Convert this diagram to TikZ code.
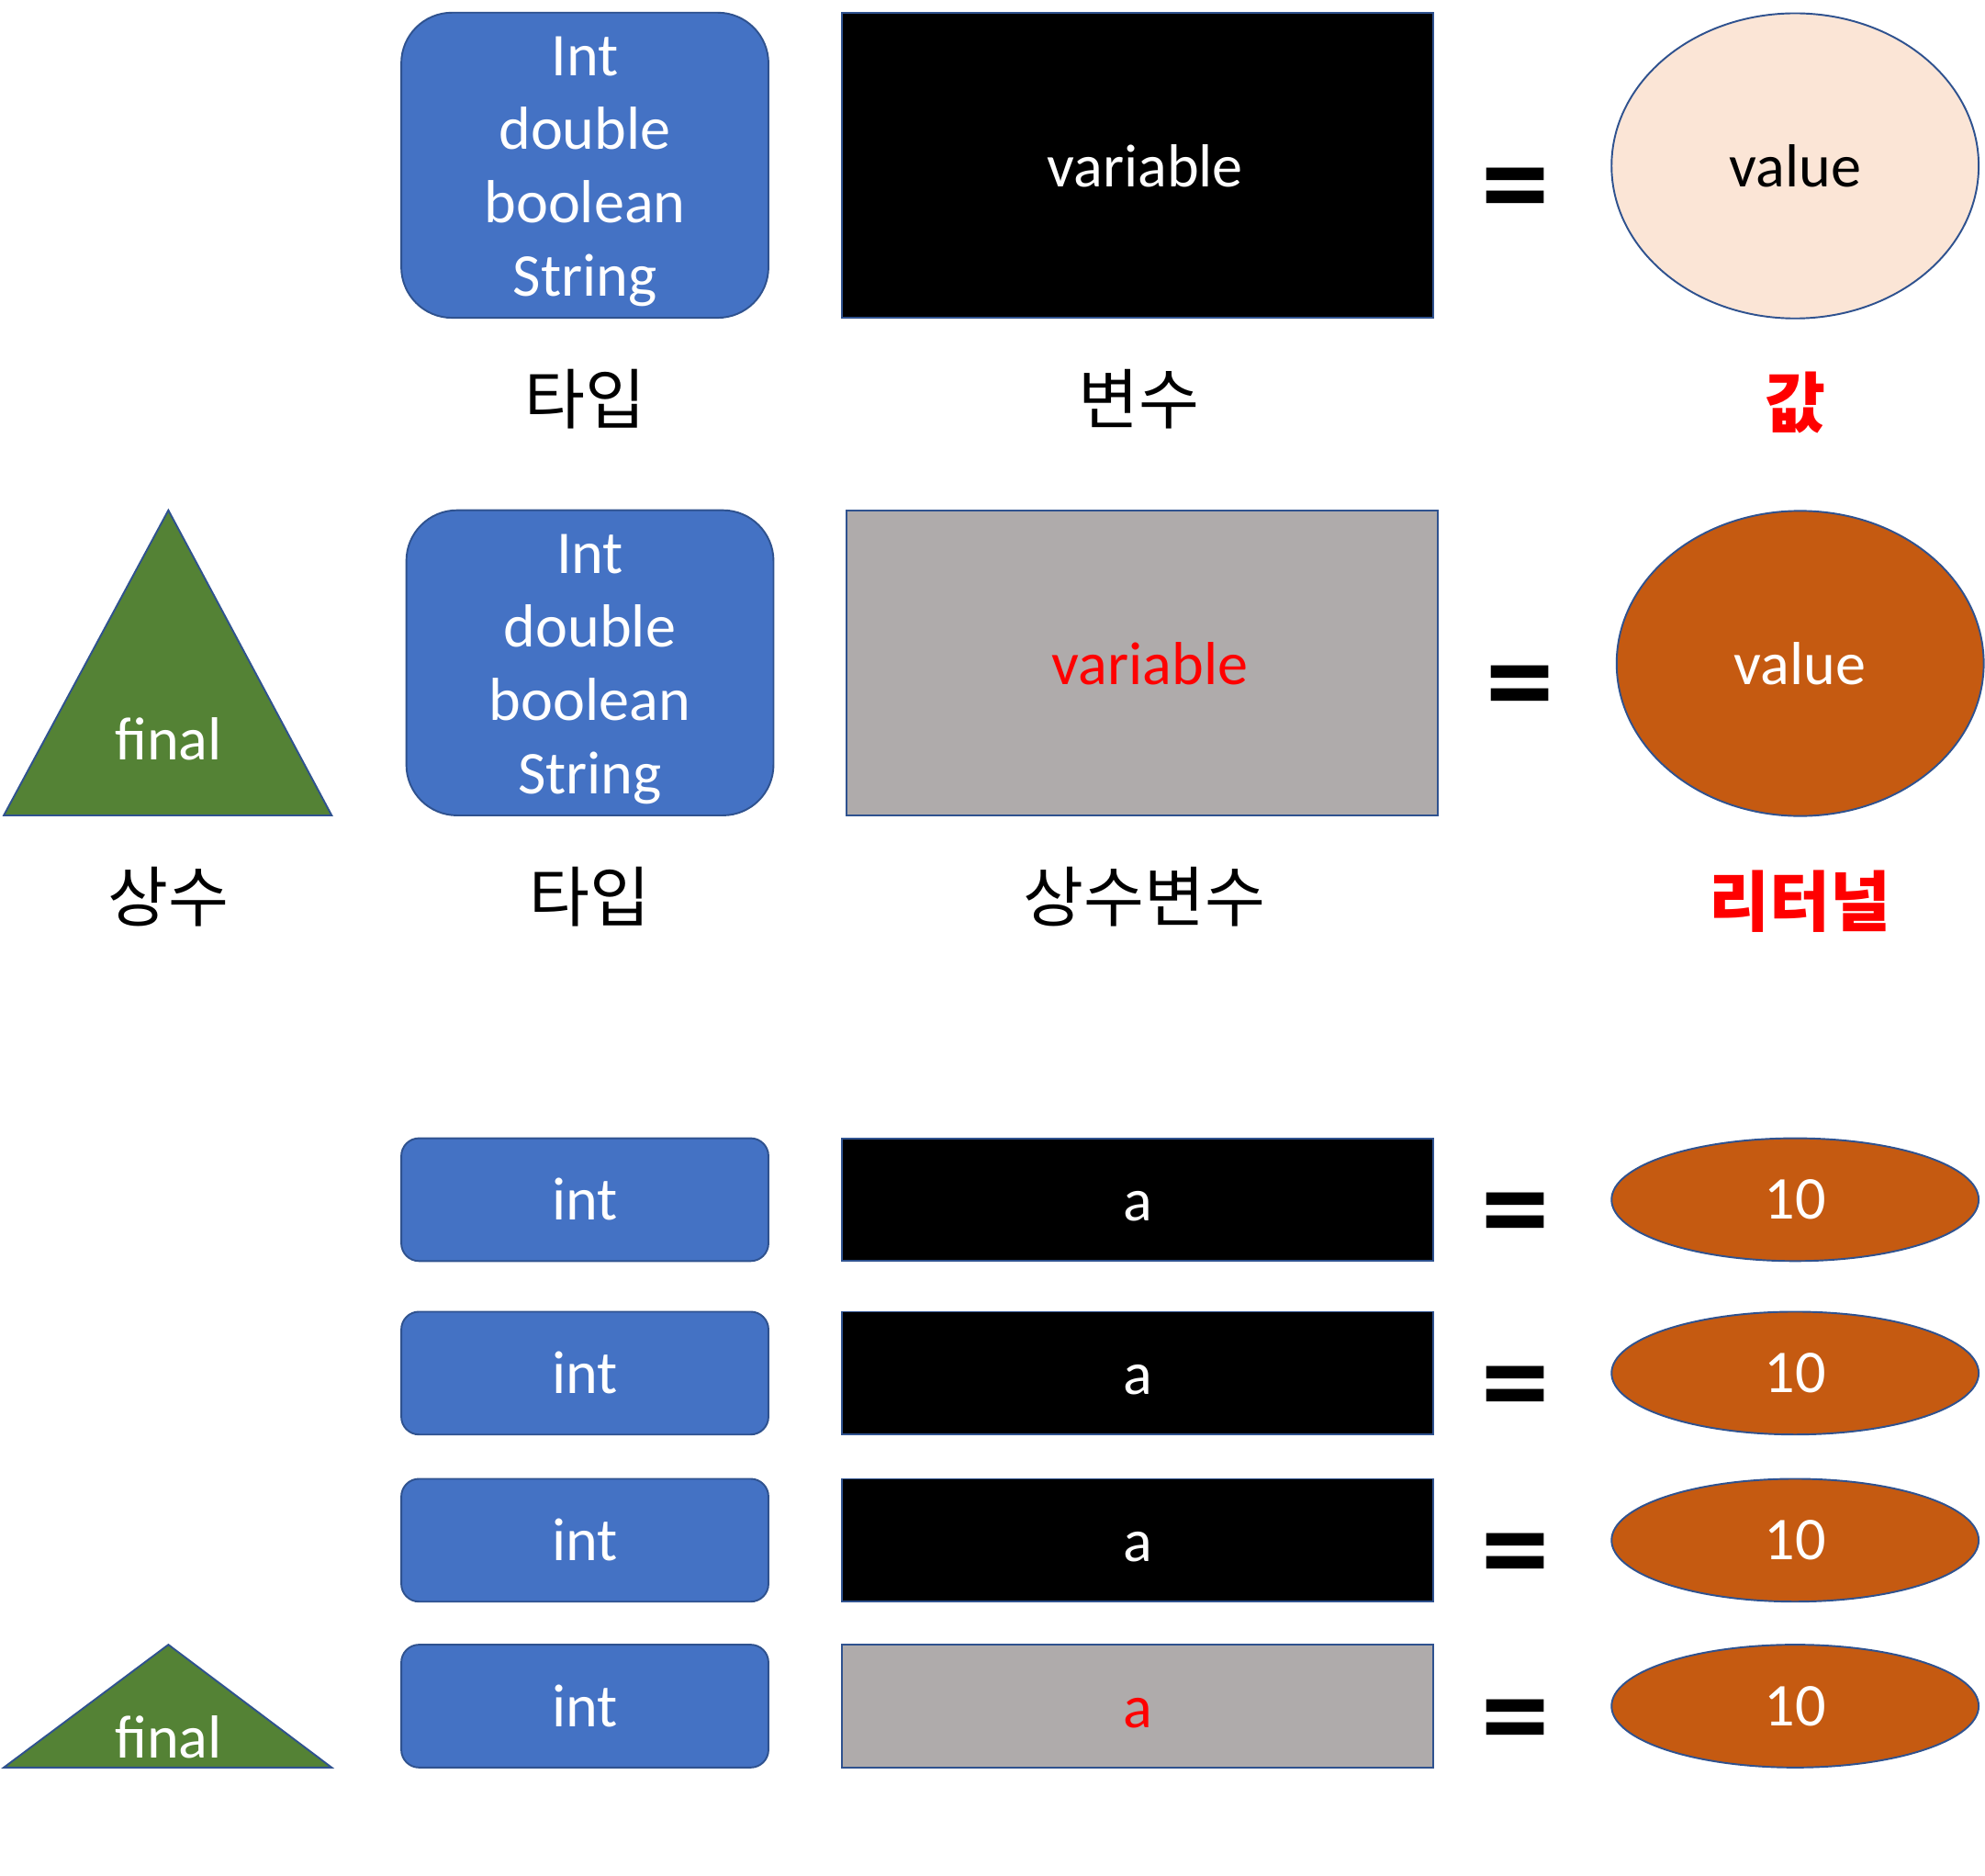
\documentclass[tikz,border=0pt]{standalone}
\usepackage{fontspec}
\setmainfont{Carlito}
\newfontfamily\kofont{Noto Sans CJK KR}
\usetikzlibrary{shapes.geometric}

\definecolor{typblau}{HTML}{4472C4}
\definecolor{rahmen}{HTML}{2F528F}
\definecolor{fingruen}{HTML}{548235}
\definecolor{konstgrau}{HTML}{AFABAB}
\definecolor{litorange}{HTML}{C55A11}
\definecolor{wertbeige}{HTML}{FBE5D6}
\definecolor{rot}{HTML}{FF0000}

\newcommand{\typliste}{\rule{0pt}{20.5pt}Int\\double\\boolean\\String}

\begin{document}
\begin{tikzpicture}[
        x=0.5pt, y=-0.5pt,
        font=\fontsize{24}{29}\selectfont,
        rand/.style={draw=rahmen, line width=0.7pt},
        typ/.style={rand, fill=typblau, text=white, rounded corners=20pt,
            minimum width=145pt, minimum height=120.5pt, inner sep=0pt, align=center},
        typklein/.style={typ, rounded corners=7pt, minimum height=48.5pt},
        var/.style={rand, fill=black, text=white, minimum width=233.5pt,
            minimum height=120.5pt, inner sep=0pt, text height=17pt, text depth=0pt},
        varklein/.style={var, minimum height=48.5pt},
        konst/.style={var, fill=konstgrau, text=rot},
        konstklein/.style={konst, minimum height=48.5pt},
        wert/.style={rand, ellipse, fill=wertbeige, text=black, minimum width=145pt,
            minimum height=120.5pt, inner sep=0pt},
        lit/.style={wert, fill=litorange, text=white},
        litklein/.style={lit, minimum height=48.5pt},
        fintri/.style={rand, fill=fingruen},
        gleich/.style={font=\fontsize{54}{54}\selectfont\bfseries, inner sep=0pt},
        beschr/.style={font=\kofont\fontsize{26}{30}\selectfont},
        beschrrot/.style={font=\kofont\bfseries\fontsize{26}{30}\selectfont, text=rot}
    ]
    \useasboundingbox (0,0) rectangle (1568,1481);

    % Zeile 1: Variable
    \node[typ]  (typ1) at (462,130.5)  {\typliste};
    \node[var]  (var1) at (898.5,130.5) {\hspace*{6pt}variable};
    \node[gleich] (eq1) at (1197,157) {=};
    \node[wert] (wert1) at (1418,131) {value};

    \node[beschr]    (ltyp1) at (462,315)  {타입};
    \node[beschr]    (lvar1) at (900,315)  {변수};
    \node[beschrrot] (lwert1) at (1418,318) {값};

    % Zeile 2: Konstante
    \draw[fintri] (3,644) -- (133,403) -- (262,644) -- cycle;
    \node[text=white] (fin2) at (133,584) {final};
    \node[typ]   (typ2) at (466,523.5)  {\typliste};
    \node[konst] (var2) at (902.5,523.5) {\hspace*{6pt}variable};
    \node[gleich] (eq2) at (1201,550) {=};
    \node[lit]   (wert2) at (1422,524) {value};

    \node[beschr]    (lfin2) at (133,708)  {상수};
    \node[beschr]    (ltyp2) at (466,708)  {타입};
    \node[beschr]    (lvar2) at (904,708)  {상수변수};
    \node[beschrrot] (lwert2) at (1422,712) {리터널};

    % Beispiele
    \foreach \y/\n in {947.5/3, 1084.5/4, 1216.5/5} {
        \node[typklein] (typ\n) at (462,\y)   {int};
        \node[varklein] (var\n) at (898.5,\y) {a};
        \node[gleich]   (eq\n)  at (1197,\y+19) {=};
        \node[litklein] (wert\n) at (1418,\y) {10};
    }

    \draw[fintri] (3,1396) -- (133,1299) -- (262,1396) -- cycle;
    \node[text=white] (fin6) at (133,1372) {final};
    \node[typklein]   (typ6) at (462,1347.5)   {int};
    \node[konstklein] (var6) at (898.5,1347.5) {a};
    \node[gleich]     (eq6)  at (1197,1366.5)  {=};
    \node[litklein]   (wert6) at (1418,1347.5) {10};

\end{tikzpicture}
\end{document}
